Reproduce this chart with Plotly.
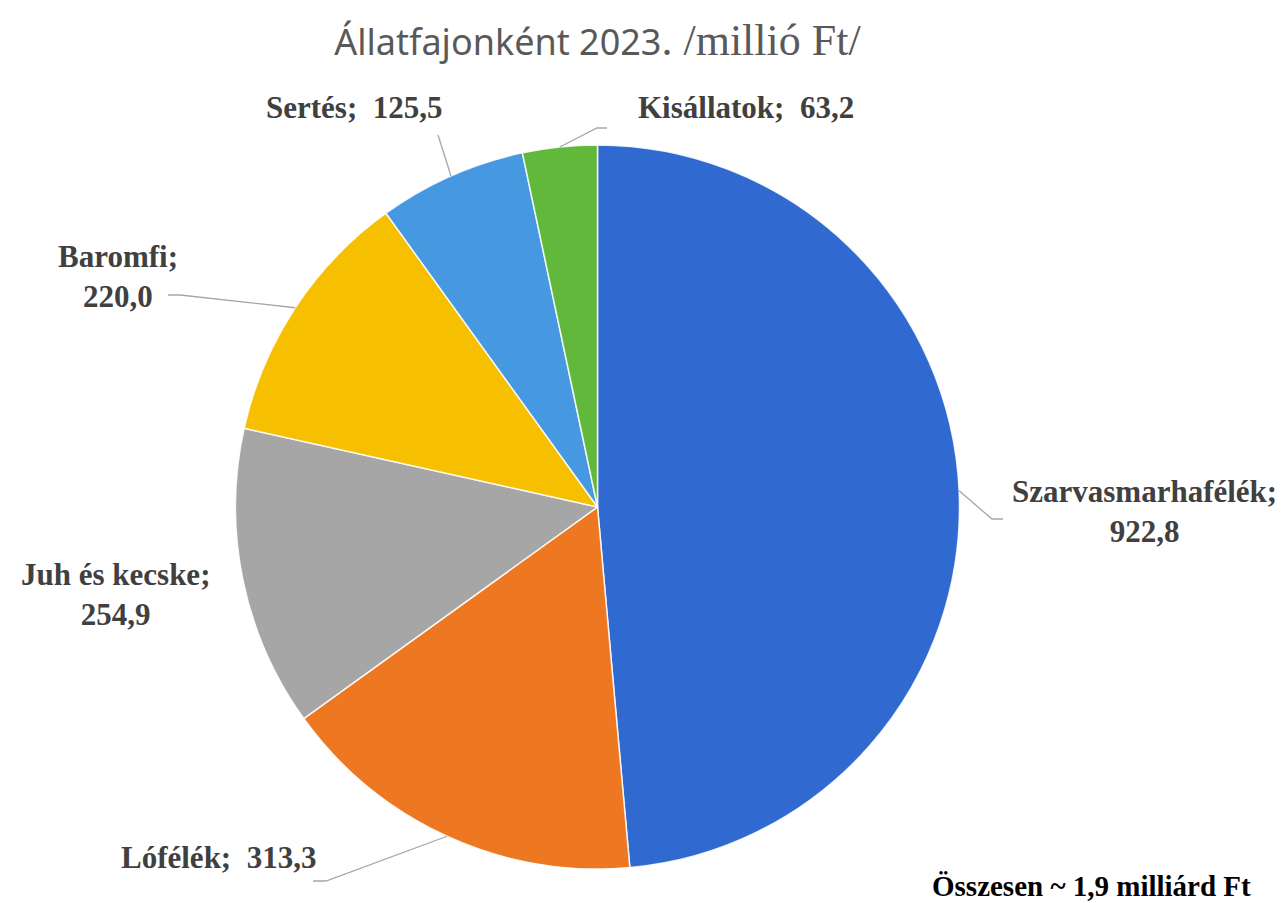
import math
import plotly.graph_objects as go

# ---- data ----
categories = ["Szarvasmarhafélék", "Lófélék", "Juh és kecske", "Baromfi", "Sertés", "Kisállatok"]
values = [922.8, 313.3, 254.9, 220.0, 125.5, 63.2]
value_labels = ["922,8", "313,3", "254,9", "220,0", "125,5", "63,2"]
colors = ["#3069CF", "#EE7722", "#A6A6A6", "#F6C000", "#4698E0", "#62B83A"]
total_note = "Összesen ~ 1,9 milliárd Ft"

# ---- layout geometry (page pixels; the page body adds an 8px offset top/left) ----
OFF = 8
W, H = 1288 - OFF, 903 - OFF
ML, MR, MT, MB = 234 - OFF, 1288 - 961, 145 - OFF, 903 - 869
PW, PH = W - ML - MR, H - MT - MB


def px_to_paper(x, y):
    x -= OFF
    y -= OFF
    return (x - ML) / PW, 1 - (y - MT) / PH


# label text layout: (center x, center y, text template) in page pixels
label_layout = {
    "Szarvasmarhafélék": (1144, 511, "{c};<br>{v}"),
    "Lófélék": (218, 857, "{c};\u00a0 {v}"),
    "Juh és kecske": (115, 594, "{c};<br>{v}"),
    "Baromfi": (118, 276, "{c};<br>{v}"),
    "Sertés": (354, 108, "{c};\u00a0 {v}"),
    "Kisállatok": (746, 108, "{c};\u00a0 {v}"),
}
# leader line waypoints after the slice edge (page pixels)
leader_layout = {
    "Szarvasmarhafélék": [(992, 519), (1003, 519)],
    "Lófélék": [(326, 881), (313, 881)],
    "Juh és kecske": [],
    "Baromfi": [(180, 295), (168, 295)],
    "Sertés": [(438, 135)],
    "Kisállatok": [(597, 128), (607, 128)],
}

fig = go.Figure(
    go.Pie(
        labels=categories,
        values=values,
        sort=False,
        direction="clockwise",
        rotation=0,
        marker=dict(colors=colors, line=dict(color="rgba(255,255,255,0.85)", width=1.5)),
        textinfo="none",
        hoverinfo="label+value",
        showlegend=False,
    )
)

annotations = []
shapes = []
tot = sum(values)
cum = 0.0
rx = 0.5 * min(PW, PH) / PW
ry = 0.5 * min(PW, PH) / PH
for cat, val, vl in zip(categories, values, value_labels):
    mid = (cum + val / 2) / tot * 2 * math.pi
    cum += val
    # slice edge at mid angle, in paper coords
    sx = 0.5 + rx * math.sin(mid)
    sy = 0.5 + ry * math.cos(mid)
    pts = [(sx, sy)] + [px_to_paper(*p) for p in leader_layout[cat]]
    if len(pts) > 1:
        path = "M {} {}".format(*pts[0]) + "".join(" L {} {}".format(*p) for p in pts[1:])
        shapes.append(dict(type="path", xref="paper", yref="paper", path=path,
                           line=dict(color="#A6A6A6", width=1.3)))
    lx, ly, tmpl = label_layout[cat]
    ax, ay = px_to_paper(lx, ly)
    annotations.append(dict(
        x=ax, y=ay, xref="paper", yref="paper", showarrow=False,
        xanchor="center", yanchor="middle",
        text="<b>" + tmpl.format(c=cat, v=vl) + "</b>",
        font=dict(family="Liberation Serif, Times New Roman, serif", size=31, color="#404040"),
    ))

tx, ty = px_to_paper(1091, 886)
annotations.append(dict(
    x=tx, y=ty, xref="paper", yref="paper", showarrow=False,
    xanchor="center", yanchor="middle",
    text="<b>" + total_note + "</b>",
    font=dict(family="Liberation Serif, Times New Roman, serif", size=29, color="#000000"),
))

title_text = ("Állatfajonként 2023"
              "<span style=\"font-family:'Liberation Serif', serif; font-size:44px\">. /millió Ft/</span>")

fig.update_layout(
    width=W, height=H,
    margin=dict(l=ML, r=MR, t=MT, b=MB),
    paper_bgcolor="white",
    plot_bgcolor="white",
    title=dict(
        text=title_text,
        x=(597.5 - OFF) / W, xanchor="center", xref="container",
        y=1 - (42 - OFF) / H, yanchor="middle", yref="container",
        font=dict(family="Noto Sans, sans-serif", size=36, color="#595959"),
    ),
    annotations=annotations,
    shapes=shapes,
)

fig.write_html("out.html")
